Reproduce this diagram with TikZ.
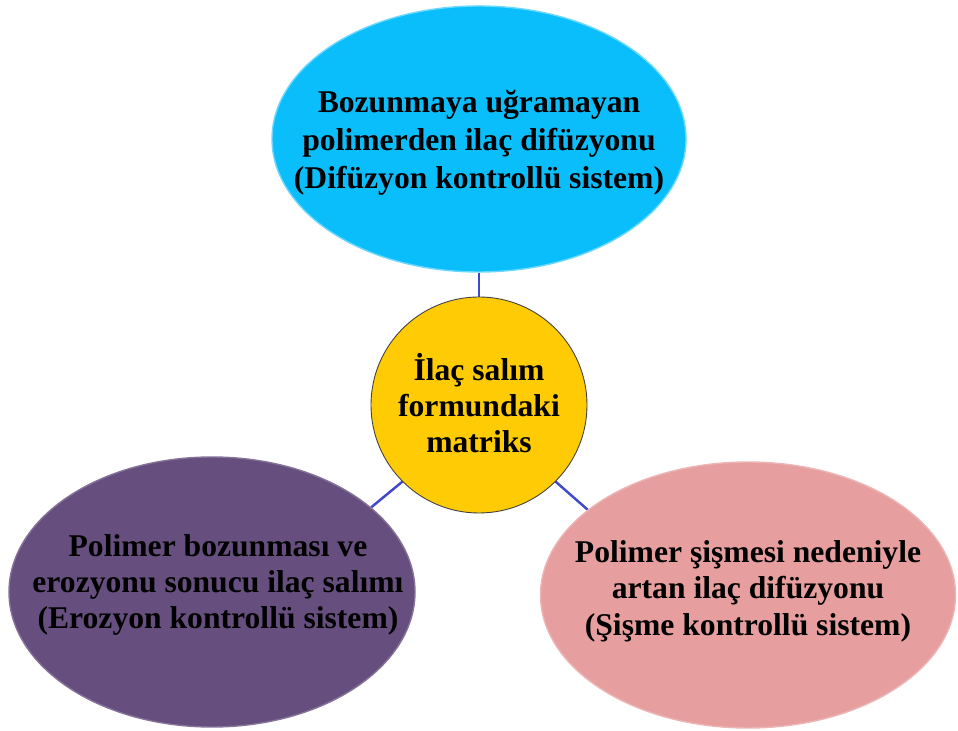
\documentclass[tikz,border=0pt]{standalone}
\usepackage{fontspec}
\setmainfont{Liberation Serif}
\usepackage{tikz}
\usetikzlibrary{shapes.geometric,backgrounds}
\definecolor{topcyan}{HTML}{0ABEFC}
\definecolor{hubgold}{HTML}{FFCB05}
\definecolor{erosionpurple}{HTML}{664F7F}
\definecolor{swellpink}{HTML}{E69E9E}
\definecolor{linkblue}{HTML}{4048CC}

\begin{document}
\begin{tikzpicture}[
  oval/.style={ellipse, inner sep=0pt, line width=0.8pt},
  ovaltext/.style={align=center, inner sep=0pt, font=\fontsize{18}{21.5}\selectfont\bfseries},
  hubcircle/.style={circle, inner sep=0pt, minimum size=4.32cm, draw=black!75, line width=0.5pt},
  link/.style={draw=linkblue, line width=1.4pt}
]
\useasboundingbox (0,0) rectangle (19.16,-14.62);

\node[oval, fill=topcyan, draw=topcyan!60!white, minimum width=8.28cm, minimum height=5.32cm] (diffusion) at (9.58,-2.78) {};
\node[ovaltext] (diffusiontext) at ([yshift=-0.08cm]diffusion.center) {Bozunmaya uğramayan\\polimerden ilaç difüzyonu\\(Difüzyon kontrollü sistem)};

\node[hubcircle, fill=hubgold] (matrix) at (9.58,-8.10) {};
\node[ovaltext, font=\fontsize{18}{20.5}\selectfont\bfseries] (matrixtext) at ([yshift=0.04cm]matrix.center) {İlaç salım\\formundaki\\matriks};

\node[oval, fill=erosionpurple, draw=erosionpurple!80!white, minimum width=8.12cm, minimum height=5.40cm] (erosion) at (4.24,-11.84) {};
\node[ovaltext, font=\fontsize{18}{20.5}\selectfont\bfseries] (erosiontext) at ([xshift=0.12cm, yshift=0.14cm]erosion.center) {Polimer bozunması ve\\erozyonu sonucu ilaç salımı\\(Erozyon kontrollü sistem)};

\node[oval, fill=swellpink, draw=swellpink!75!white, minimum width=8.30cm, minimum height=5.32cm] (swelling) at (14.96,-11.90) {};
\node[ovaltext, font=\fontsize{18}{20.8}\selectfont\bfseries] (swellingtext) at ([yshift=0.08cm]swelling.center) {Polimer şişmesi nedeniyle\\artan ilaç difüzyonu\\(Şişme kontrollü sistem)};

\begin{scope}[on background layer]
  \draw[link] (matrix.north) -- (diffusion.south);
  \draw[link] (matrix.-135) -- (erosion.28);
  \draw[link] (matrix.-45) -- (swelling.152);
\end{scope}

\end{tikzpicture}
\end{document}
